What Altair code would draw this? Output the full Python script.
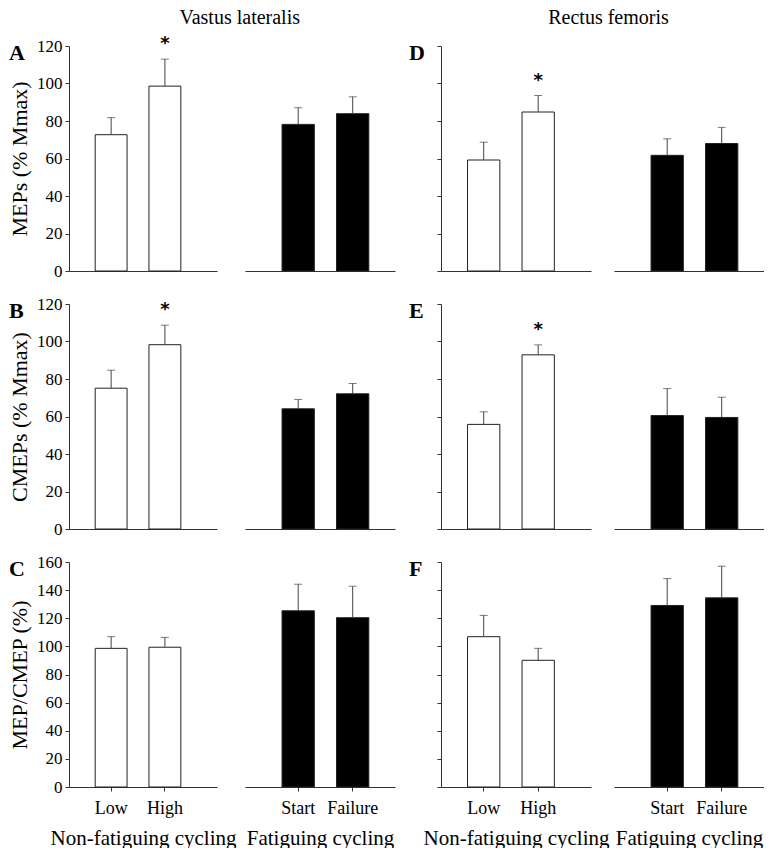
import altair as alt
import pandas as pd

FONT = "Liberation Serif"

conditions = ["Low", "High", "Start", "Failure"]
nonfatiguing = ["Low", "High"]
fatiguing = ["Start", "Failure"]
group_titles = ["Non-fatiguing cycling", "Fatiguing cycling"]
muscles = ["Vastus lateralis", "Rectus femoris"]
measure_titles = ["MEPs (% Mmax)", "CMEPs (% Mmax)", "MEP/CMEP (%)"]
panel_letters = [["A", "B", "C"], ["D", "E", "F"]]
y_max = [120, 120, 160]

# means / SE in order Low, High, Start, Failure
vl_mep_mean = [72.7, 98.6, 78.2, 83.9]
vl_mep_se = [9.1, 14.4, 8.9, 9.0]
vl_cmep_mean = [75.1, 98.3, 64.1, 72.1]
vl_cmep_se = [9.6, 10.4, 5.0, 5.5]
vl_ratio_mean = [98.6, 99.4, 125.3, 120.4]
vl_ratio_se = [8.3, 7.0, 18.9, 22.4]

rf_mep_mean = [59.2, 84.8, 61.7, 68.0]
rf_mep_se = [9.5, 8.8, 8.8, 8.6]
rf_cmep_mean = [55.8, 92.9, 60.5, 59.5]
rf_cmep_se = [6.7, 5.3, 14.4, 10.8]
rf_ratio_mean = [106.9, 90.1, 129.1, 134.5]
rf_ratio_se = [15.1, 8.5, 19.1, 22.5]

significant = [["High"], ["High"], []]

all_means = [[vl_mep_mean, vl_cmep_mean, vl_ratio_mean],
             [rf_mep_mean, rf_cmep_mean, rf_ratio_mean]]
all_ses = [[vl_mep_se, vl_cmep_se, vl_ratio_se],
           [rf_mep_se, rf_cmep_se, rf_ratio_se]]


def make_df(mean, se, sig):
    return pd.DataFrame({
        "cond": conditions,
        "mean": mean,
        "se": se,
        "top": [m + s for m, s in zip(mean, se)],
        "sig": [c in sig for c in conditions],
    })


def sub_chart(df, conds, filled, ymax, ytitle, show_y, y_labels, letter,
              letter_dx, bottom, xtitle, width, align):
    d = df[df["cond"].isin(conds)]
    xs = alt.Scale(domain=conds, paddingInner=0.407, paddingOuter=0.58, align=align)
    if bottom:
        xa = alt.Axis(title=xtitle, labelAngle=0, ticks=True, tickSize=4,
                      labelPadding=8, titlePadding=10, labelFontSize=18,
                      titleFontSize=21, domain=True, labelFont=FONT,
                      titleFont=FONT)
    else:
        xa = alt.Axis(title=None, labels=False, ticks=False, domain=True)
    ys = alt.Scale(domain=[0, ymax], nice=False, zero=True)
    if show_y:
        if y_labels:
            ya = alt.Axis(title=ytitle, values=list(range(0, ymax + 1, 20)),
                          tickSize=4, labelPadding=3, labelFontSize=17,
                          titleFontSize=22, titlePadding=5, labelFont=FONT,
                          titleFont=FONT)
        else:
            ya = alt.Axis(title=None, values=list(range(0, ymax + 1, 20)),
                          tickSize=4, labels=False)
    else:
        ya = None
    x = alt.X("cond:N", scale=xs, axis=xa, sort=conds)
    base = alt.Chart(d)
    bars = base.mark_bar(fill="black" if filled else "white", stroke="#222",
                         strokeWidth=1).encode(
        x=x, y=alt.Y("mean:Q", scale=ys, axis=ya))
    err = base.mark_rule(color="#444", strokeWidth=1).encode(
        x=x, y=alt.Y("mean:Q", scale=ys, axis=ya), y2="top:Q")
    cap = base.mark_tick(color="#444", size=8, thickness=1).encode(
        x=x, y=alt.Y("top:Q", scale=ys, axis=ya))
    layers = [bars, err, cap]
    if d["sig"].any():
        star = base.transform_filter(alt.datum.sig).mark_text(
            text="*", font="DejaVu Sans", fontSize=18, fontWeight="bold",
            dy=-15, baseline="middle").encode(
            x=x, y=alt.Y("top:Q", scale=ys, axis=ya))
        layers.append(star)
    if letter:
        lt = alt.Chart(pd.DataFrame({"letter": [letter]})).mark_text(
            font=FONT, fontSize=22, fontWeight="bold", align="left",
            baseline="middle").encode(
            x=alt.value(letter_dx), y=alt.value(7), text="letter:N")
        layers.append(lt)
    return alt.layer(*layers).properties(width=width, height=225)


columns = []
for mi, muscle in enumerate(muscles):
    rows = []
    for ri in range(3):
        df = make_df(all_means[mi][ri], all_ses[mi][ri], significant[ri])
        bottom = ri == 2
        left = sub_chart(df, nonfatiguing, False, y_max[ri], measure_titles[ri],
                         True, mi == 0, panel_letters[mi][ri],
                         -60 if mi == 0 else -32, bottom, group_titles[0],
                         148 if mi == 0 else 150, 0.42)
        right = sub_chart(df, fatiguing, True, y_max[ri], measure_titles[ri],
                          False, False, None, 0, bottom, group_titles[1],
                          150, 0.586)
        rows.append(alt.hconcat(left, right, spacing=28 if mi == 0 else 23,
                                bounds="flush"))
    col = alt.vconcat(*rows, spacing=16 if mi == 0 else 28,
                      title=alt.TitleParams(
                          muscle, font=FONT, fontSize=20, fontWeight="normal",
                          color="black", anchor="middle",
                          dx=38 if mi == 0 else 22,
                          offset=7 if mi == 0 else 14))
    columns.append(col)

chart = alt.hconcat(*columns, spacing=14).properties(
    padding={"left": 0, "top": 0, "right": 0, "bottom": 0}
).configure_view(stroke=None).configure_axis(
    labelFont=FONT, titleFont=FONT, labelColor="black", titleColor="black",
    domainColor="#333", tickColor="#333", grid=False, titleFontWeight="normal"
)

chart.save("out.html", embed_options={"renderer": "svg", "actions": False})
